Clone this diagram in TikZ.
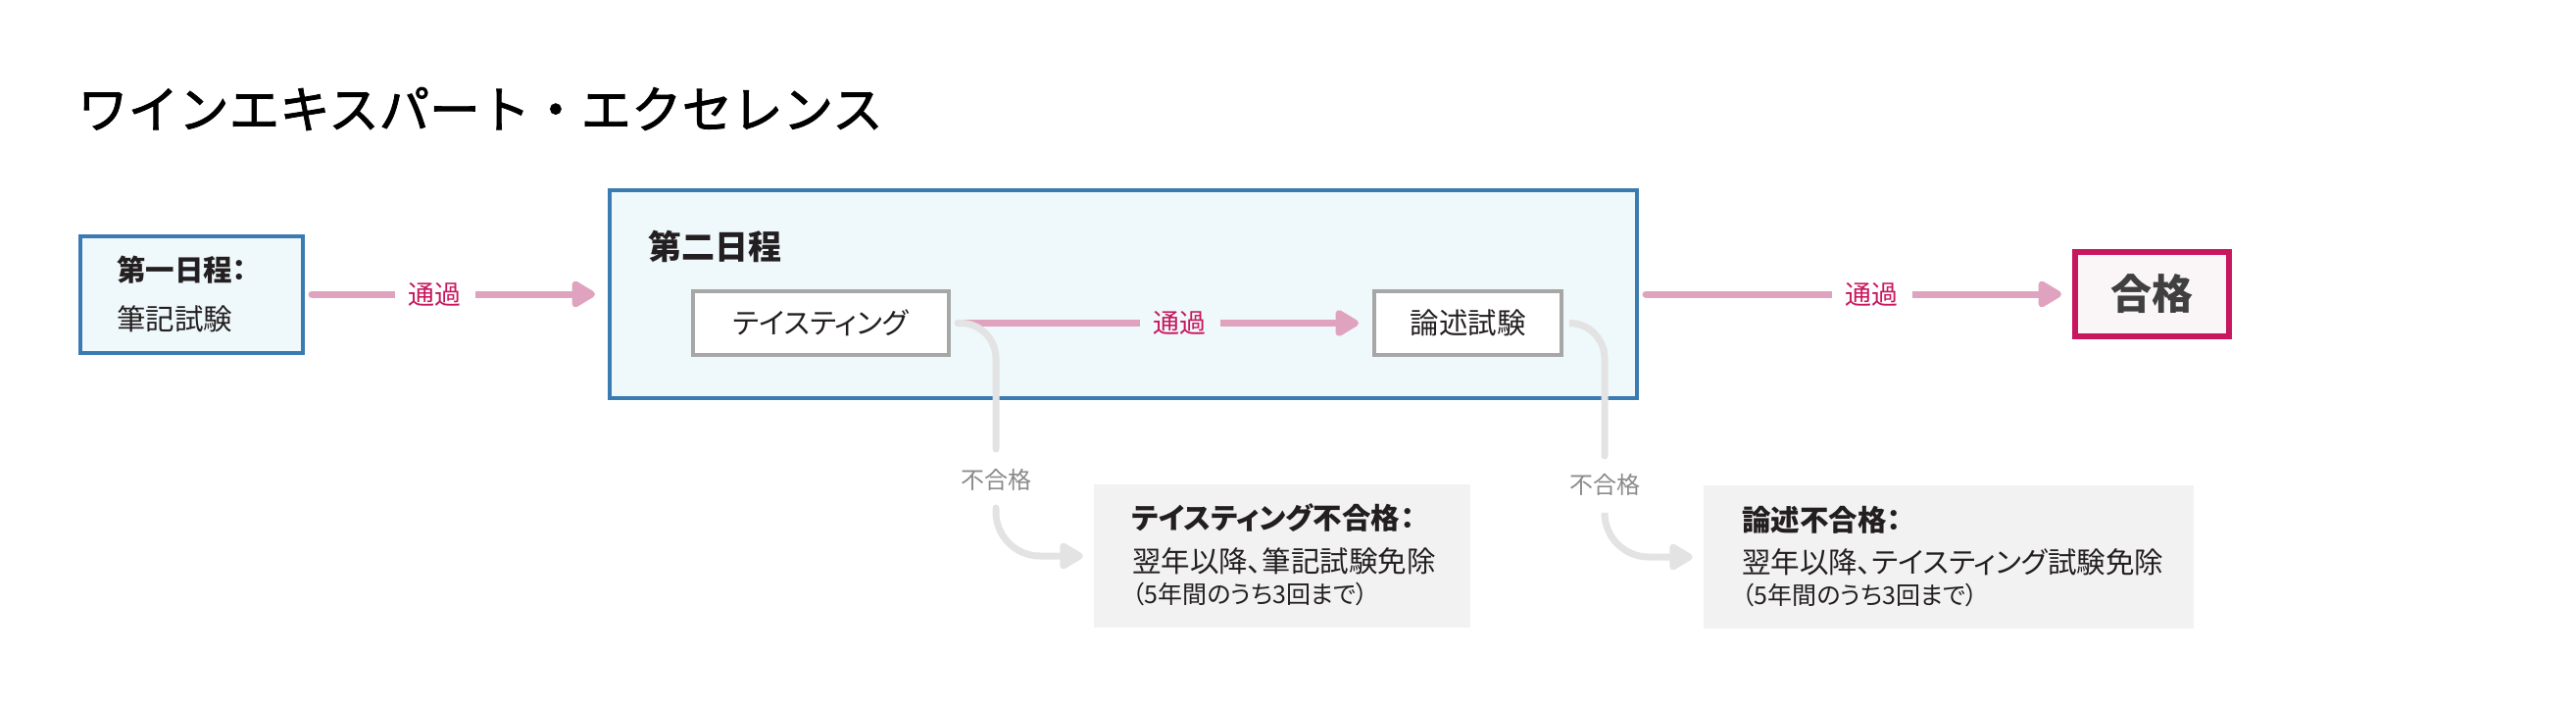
\documentclass[tikz,border=0pt]{standalone}
\usepackage{fontspec}
\setmainfont{Noto Sans CJK JP}[RawFeature={+palt}]
\newfontfamily\titlefont{Noto Sans CJK JP}[FakeBold=1.6]
\usetikzlibrary{arrows.meta}
\definecolor{blueborder}{HTML}{3B7BB3}
\definecolor{bluefill}{HTML}{EFF8FB}
\definecolor{grayborder}{HTML}{A7A7A7}
\definecolor{pinkline}{HTML}{E0A3BF}
\definecolor{crimson}{HTML}{C8175D}
\definecolor{passfill}{HTML}{FAF6F8}
\definecolor{failline}{HTML}{E3E3E3}
\definecolor{faillabel}{HTML}{8A8A8A}
\definecolor{failfill}{HTML}{F2F2F2}
\definecolor{ink}{HTML}{231F20}
\begin{document}
\begin{tikzpicture}[x=1pt,y=-1pt,
  bluebox/.style={draw=blueborder,line width=4pt,fill=bluefill,inner sep=0pt},
  graybox/.style={draw=grayborder,line width=4pt,fill=white,inner sep=0pt,text=ink,font=\fontsize{29.5}{32}\selectfont},
  passbox/.style={draw=crimson,line width=6pt,fill=passfill,inner sep=0pt,text=black!75,font=\bfseries\fontsize{42}{46}\selectfont},
  failbox/.style={fill=failfill,inner sep=0pt},
  bodytxt/.style={inner sep=0pt,text=ink,font=\fontsize{29.5}{32}\selectfont},
  headtxt/.style={inner sep=0pt,text=ink,font=\bfseries\fontsize{29.5}{32}\selectfont},
  smalltxt/.style={inner sep=0pt,text=ink,font=\fontsize{25}{28}\selectfont},
  passlbl/.style={inner xsep=14pt,inner ysep=6pt,text=crimson,font=\fontsize{27}{30}\selectfont},
  faillbl/.style={inner sep=0pt,text=faillabel,font=\fontsize{24}{27}\selectfont},
  pinkarrow/.style={draw=pinkline,line width=7pt,line cap=round,-{Triangle[length=27pt,width=30pt,round]}},
  failseg/.style={draw=failline,line width=7pt,line cap=round},
  failarrow/.style={draw=failline,line width=7pt,line cap=round,-{Triangle[length=27pt,width=30pt,round]}}
]
\useasboundingbox (0,0) rectangle (2628,720);

\node[anchor=west,inner sep=0pt,text=black,font=\titlefont\fontsize{51.5}{56}\selectfont] (title) at (79,111) {ワインエキスパート・エクセレンス};

\node[bluebox,minimum width=227pt,minimum height=119pt] (day1) at (195.5,300) {};
\node[headtxt,anchor=west] (day1a) at (119,275) {第一日程：};
\node[bodytxt,anchor=west] (day1b) at (119,325) {筆記試験};

\node[bluebox,minimum width=1048pt,minimum height=212pt] (day2) at (1146,300) {};
\node[headtxt,anchor=west,font=\bfseries\fontsize{34}{38}\selectfont] (day2t) at (661,251) {第二日程};

\node[graybox,minimum width=261pt,minimum height=65pt] (taste) at (837.5,329.5) {テイスティング};
\node[graybox,minimum width=191pt,minimum height=65pt] (ron) at (1497.5,329.5) {論述試験};

\node[passbox,minimum width=157pt,minimum height=86pt] (pass) at (2195.5,300) {合格};

\node[failbox,minimum width=384pt,minimum height=146pt] (fail1) at (1308,567) {};
\node[headtxt,anchor=west] (fail1a) at (1155,528) {テイスティング不合格：};
\node[bodytxt,anchor=west] (fail1b) at (1155,572) {翌年以降、筆記試験免除};
\node[smalltxt,anchor=west] (fail1c) at (1155,606) {（5年間のうち3回まで）};

\node[failbox,minimum width=500pt,minimum height=146pt] (fail2) at (1988,568) {};
\node[headtxt,anchor=west] (fail2a) at (1777,530) {論述不合格：};
\node[bodytxt,anchor=west] (fail2b) at (1777,573) {翌年以降、テイスティング試験免除};
\node[smalltxt,anchor=west] (fail2c) at (1777,607) {（5年間のうち3回まで）};

\node[faillbl] (nf1) at (1016,489) {不合格};
\node[faillbl] (nf2) at (1637,494) {不合格};

\draw[pinkarrow,shorten <=7pt,shorten >=13pt] (day1.east) -- node[passlbl,pos=0.43,fill=white] (p1) {通過} (day2.west);
\draw[pinkarrow,shorten <=14pt,shorten >=14pt] (taste.east) -- node[passlbl,pos=0.544,fill=bluefill] (p2) {通過} (ron.west);
\draw[pinkarrow,shorten <=7pt,shorten >=11pt] (day2.east) -- node[passlbl,pos=0.538,fill=white] (p3) {通過} (pass.west);

\draw[failseg,rounded corners=36pt,shorten <=7pt,shorten >=31pt] (taste.east) -| (nf1.center);
\draw[failarrow,rounded corners=45pt,shorten <=29pt,shorten >=11pt] (nf1.center) |- (fail1.west);
\draw[failseg,rounded corners=36pt,shorten <=7pt,shorten >=29pt] (ron.east) -| (nf2.center);
\draw[failarrow,rounded corners=45pt,shorten <=31pt,shorten >=11pt] (nf2.center) |- (fail2.west);
\end{tikzpicture}
\end{document}
